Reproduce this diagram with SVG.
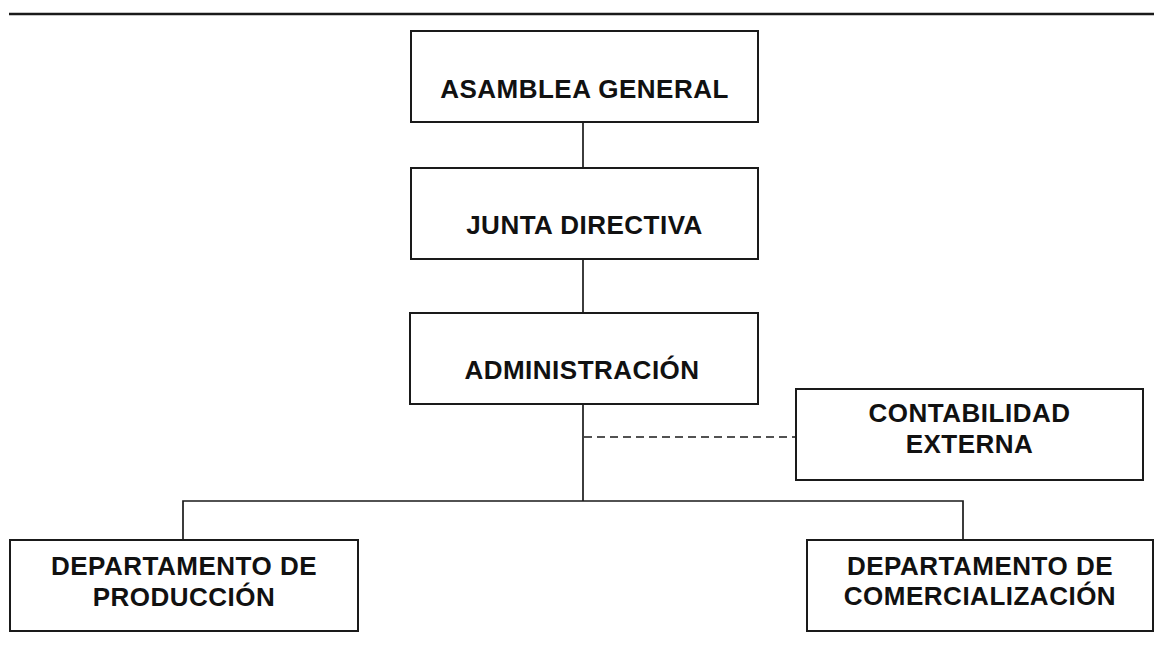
<svg xmlns="http://www.w3.org/2000/svg" width="1154" height="645" viewBox="0 0 1154 645">
<style>
.box{fill:#fff;stroke:#1a1a1a;stroke-width:2}
.ln{stroke:#1a1a1a;stroke-width:1.7;fill:none}
.dash{stroke:#1a1a1a;stroke-width:1.7;stroke-dasharray:8 5;fill:none}
text{font-family:"Liberation Sans",Arial,sans-serif;font-weight:bold;font-size:26px;letter-spacing:0.5px;fill:#111;text-anchor:middle}
</style>
<rect width="1154" height="645" fill="#fff"/>
<line x1="9" y1="14" x2="1154" y2="14" stroke="#1a1a1a" stroke-width="2.4"/>
<g id="connectors">
<line class="ln" x1="583" y1="122" x2="583" y2="168"/>
<line class="ln" x1="583" y1="259" x2="583" y2="313"/>
<line class="ln" x1="583" y1="404" x2="583" y2="501"/>
<line class="dash" x1="584" y1="437" x2="796" y2="437"/>
<polyline class="ln" points="183,540 183,501 963,501 963,540"/>
</g>
<g id="asamblea">
<rect class="box" x="411" y="31" width="347" height="91"/>
<text x="584.5" y="98">ASAMBLEA GENERAL</text>
</g>
<g id="junta">
<rect class="box" x="411" y="168" width="347" height="91"/>
<text x="584.5" y="234">JUNTA DIRECTIVA</text>
</g>
<g id="administracion">
<rect class="box" x="410" y="313" width="348" height="91"/>
<text x="582" y="379">ADMINISTRACIÓN</text>
</g>
<g id="contabilidad">
<rect class="box" x="796" y="389" width="347" height="91"/>
<text x="969.5" y="422">CONTABILIDAD</text>
<text x="969.5" y="453">EXTERNA</text>
</g>
<g id="produccion">
<rect class="box" x="10" y="540" width="348" height="91"/>
<text x="184" y="575">DEPARTAMENTO DE</text>
<text x="184" y="606">PRODUCCIÓN</text>
</g>
<g id="comercializacion">
<rect class="box" x="807" y="540" width="346" height="91"/>
<text x="980" y="575">DEPARTAMENTO DE</text>
<text x="980" y="605">COMERCIALIZACIÓN</text>
</g>
</svg>
